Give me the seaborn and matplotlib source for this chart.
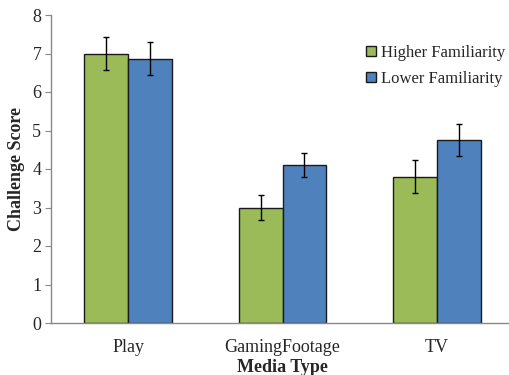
import pandas as pd
import numpy as np
import matplotlib
matplotlib.use('Agg')
import matplotlib.pyplot as plt
import seaborn as sns

# Data
media_types = ['Play', 'GamingFootage', 'TV']
groups = ['Higher Familiarity', 'Lower Familiarity']
higher_mean = [7.0, 3.0, 3.8]
lower_mean = [6.86, 4.1, 4.76]
higher_err = [0.44, 0.32, 0.43]
lower_err = [0.43, 0.32, 0.42]
colors = ['#9bbb59', '#4f81bd']

df = pd.DataFrame({
    'Media Type': media_types * 2,
    'Familiarity': [groups[0]] * 3 + [groups[1]] * 3,
    'Score': higher_mean + lower_mean,
    'Err': higher_err + lower_err,
})

sns.set_style('white')
plt.rcParams['font.family'] = ['Liberation Serif', 'DejaVu Serif']

fig = plt.figure(figsize=(5.09, 3.75), dpi=100)
ax = fig.add_axes([51 / 509, 1 - 323 / 375, (514 - 51) / 509, (323 - 15) / 375])

sns.barplot(data=df, x='Media Type', y='Score', hue='Familiarity',
            palette=colors, errorbar=None, width=0.57, saturation=1,
            edgecolor='#1a1a1a', linewidth=1, ax=ax)

# error bars at bar centres
for cont, errs in zip(ax.containers, [higher_err, lower_err]):
    xs = [p.get_x() + p.get_width() / 2 for p in cont.patches]
    ys = [p.get_height() for p in cont.patches]
    ax.errorbar(xs, ys, yerr=errs, fmt='none', ecolor='black',
                elinewidth=1, capsize=2, capthick=1)

ax.set_xlim(-0.5, 2.5)
ax.set_ylim(0, 8)
ax.set_yticks(range(0, 9))
ax.tick_params(axis='y', which='both', left=True, length=4, color='#888888',
               labelsize=13, pad=3)
ax.tick_params(axis='x', bottom=False, labelsize=13, pad=8)
for s in ['top', 'right']:
    ax.spines[s].set_visible(False)
for s in ['left', 'bottom']:
    ax.spines[s].set_color('#888888')
    ax.spines[s].set_linewidth(1)

ax.set_ylabel('Challenge Score', fontsize=13, fontweight='bold', labelpad=5)
ax.set_xlabel('Media Type', fontsize=13, fontweight='bold', labelpad=2)

ax.legend(loc='upper left', bbox_to_anchor=((359 - 51) / 463, (323 - 38) / 308),
          frameon=False, fontsize=12, handlelength=0.6, handleheight=0.6,
          handletextpad=0.3, labelspacing=0.6, borderaxespad=0)

fig.savefig('out.png', dpi=100)
